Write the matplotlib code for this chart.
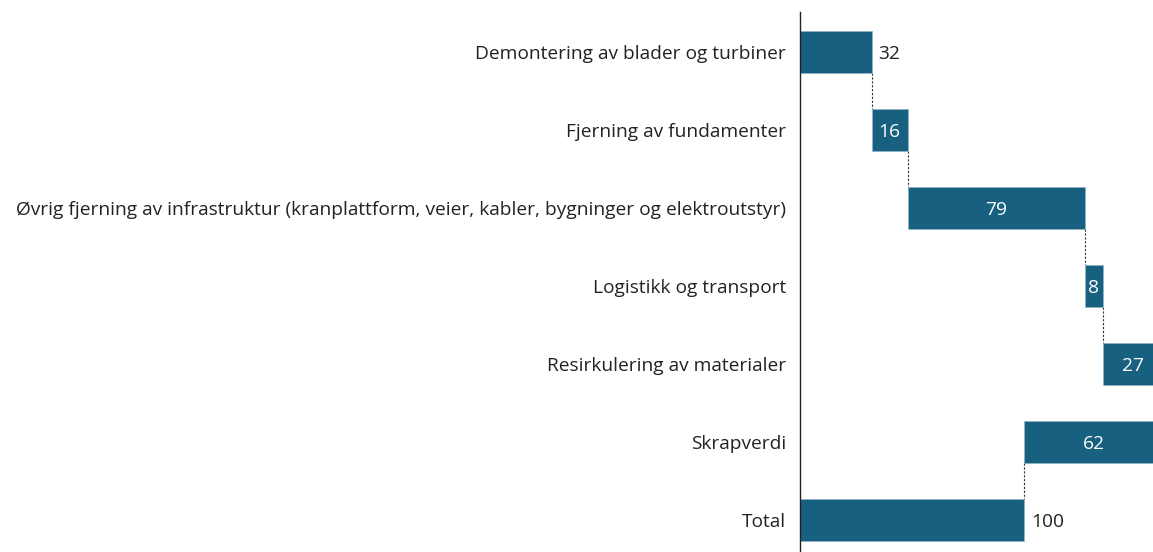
import numpy as np
import matplotlib.pyplot as plt

categories = [
    'Demontering av blader og turbiner',
    'Fjerning av fundamenter',
    'Øvrig fjerning av infrastruktur (kranplattform, veier, kabler, bygninger og elektroutstyr)',
    'Logistikk og transport',
    'Resirkulering av materialer',
    'Skrapverdi',
    'Total',
]
changes = [32, 16, 79, 8, 27, -62]
total = 100
outside_labels = [True, False, False, False, False, False, True]

plt.rcParams['font.family'] = ['Open Sans', 'DejaVu Sans']

bar_color = '#17607F'

# waterfall starts / ends
ends = np.cumsum(changes)
starts = ends - np.array(changes)
lefts = list(np.minimum(starts, ends)) + [0]
widths = list(np.abs(changes)) + [total]
values = [abs(c) for c in changes] + [total]
bar_ends = list(ends) + [total]

fig = plt.figure(figsize=(11.53, 5.52), dpi=100)
ax = fig.add_axes([800 / 1153, 0, 1 - 800 / 1153, 540 / 552])

y = np.arange(len(categories))
h = 0.55
ax.barh(y, widths, left=lefts, height=h, color=bar_color,
        edgecolor='#8FB3C6', linewidth=0.6, zorder=2)

# connectors between bars
for i in range(len(categories) - 1):
    x = bar_ends[i]
    ax.plot([x, x], [y[i] + h / 2, y[i + 1] - h / 2], color='#333333',
            lw=0.8, ls=(0, (2, 1.5)), zorder=1)

fs = 13.8
xmax = 157.4
for i, v in enumerate(values):
    if outside_labels[i]:
        ax.text(lefts[i] + widths[i] + 3, y[i], str(v), va='center_baseline',
                ha='left', fontsize=fs, color='#222222')
    else:
        ax.text(lefts[i] + widths[i] / 2, y[i], str(v), va='center_baseline',
                ha='center', fontsize=fs, color='white')

ax.set_xlim(0, xmax)
ax.set_ylim(6.41, -0.513)
ax.set_yticks(y)
ax.set_yticklabels(categories, fontsize=fs, color='#222222')
ax.tick_params(axis='y', length=0, pad=10)
ax.set_xticks([])
for s in ['top', 'right', 'bottom']:
    ax.spines[s].set_visible(False)
ax.spines['left'].set_linewidth(1.0)
ax.spines['left'].set_color('#222222')

fig.savefig('out.png', dpi=100)
